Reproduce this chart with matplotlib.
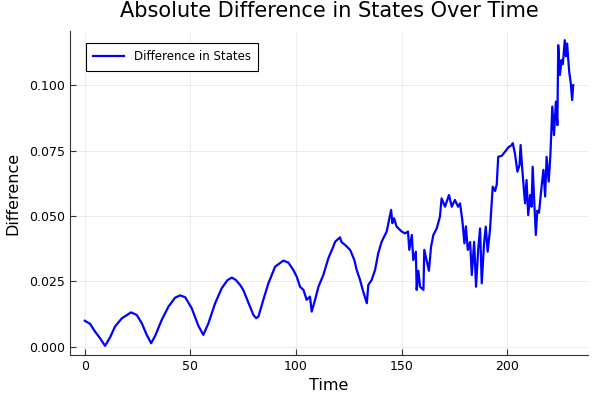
import matplotlib
matplotlib.use("Agg")
import matplotlib.pyplot as plt

# values
time = [0, 2.5, 4.9, 7.2, 9.6, 12, 14.3, 17.5, 21.9, 24.6, 27, 29.3, 31.4,
        33.3, 36.4, 39.6, 42.7, 45.1, 47.5, 50.6, 53.8, 56.1, 58.5, 61.7,
        64.8, 67.5, 69.6, 71.5, 73.5, 75, 76.6, 78.2, 79.8, 81.1, 82.2,
        84.5, 86.9, 90.1, 94, 96.4, 98.7, 100.3, 101.9, 103.5, 105, 106.6,
        107.4, 109, 110.6, 112.9, 115.3, 117.6, 118.5, 120.8, 121.5, 123.2,
        125.6, 127.6, 128.7, 130.3, 131.8, 133.5, 134.2, 135.8, 137.4,
        138.9, 140.5, 142.9, 145, 145.6, 146.4, 147.6, 150, 151.6, 153,
        153.6, 154.8, 155.5, 156.7, 157.1, 157.9, 158.7, 160.3, 160.7,
        162.9, 163.9, 165, 166.6, 168.1, 168.9, 170.5, 172.4, 173.7, 175.2,
        176.7, 177.6, 178.7, 179.7, 180.4, 181.3, 182.4, 183.2, 184.3,
        185.2, 186.2, 187.1, 187.9, 189, 189.8, 190.7, 191.8, 193.1, 194.2,
        195, 195.7, 197.4, 198.9, 200.5, 202.1, 202.6, 203.6, 204.8, 205.8,
        206.3, 207.1, 208.4, 209.1, 209.9, 210.8, 211.5, 212, 213, 213.5,
        214.2, 215, 216.3, 217.1, 217.9, 218.6, 219.6, 220.4, 221.3, 222.1,
        223, 223.7, 224.1, 224.9, 225.7, 226.3, 227.2, 227.8, 228.3, 229.3,
        230, 230.7, 231.2]
difference = [0.0099, 0.0087, 0.0057, 0.0032, 0.0003, 0.0036, 0.0077, 0.0108,
              0.0131, 0.0121, 0.0089, 0.0045, 0.0013, 0.0041, 0.0102, 0.0153,
              0.0187, 0.0196, 0.0189, 0.0147, 0.0079, 0.0045, 0.0089, 0.0166,
              0.0223, 0.0254, 0.0264, 0.0255, 0.0236, 0.0217, 0.0185, 0.0153,
              0.0121, 0.0109, 0.0115, 0.0179, 0.0242, 0.0306, 0.0329, 0.0321,
              0.0293, 0.0268, 0.0229, 0.0217, 0.0179, 0.0191, 0.0134, 0.0179,
              0.0229, 0.0274, 0.0338, 0.0382, 0.0401, 0.0418, 0.0400, 0.0389,
              0.0370, 0.0331, 0.0293, 0.0255, 0.0210, 0.0166, 0.0236, 0.0255,
              0.0293, 0.0357, 0.0401, 0.0440, 0.0523, 0.0472, 0.0491, 0.0459,
              0.0440, 0.0433, 0.0440, 0.0370, 0.0427, 0.0331, 0.0363, 0.0217,
              0.0290, 0.0229, 0.0217, 0.0370, 0.0290, 0.0382, 0.0427, 0.0452,
              0.0497, 0.0567, 0.0535, 0.0580, 0.0535, 0.0561, 0.0535, 0.0548,
              0.0484, 0.0395, 0.0460, 0.0370, 0.0400, 0.0274, 0.0401, 0.0229,
              0.0370, 0.0452, 0.0242, 0.0395, 0.0459, 0.0363, 0.0446, 0.0612,
              0.0595, 0.0620, 0.0726, 0.0730, 0.0745, 0.0762, 0.0771, 0.0778,
              0.0739, 0.0669, 0.0695, 0.0771, 0.0676, 0.0548, 0.0637, 0.0503,
              0.0580, 0.0535, 0.0688, 0.0510, 0.0427, 0.0520, 0.0512, 0.0618,
              0.0676, 0.0574, 0.0726, 0.0631, 0.0733, 0.0918, 0.0809, 0.0937,
              0.0847, 0.1153, 0.1039, 0.1096, 0.1080, 0.1172, 0.1110, 0.1159,
              0.1051, 0.1010, 0.0943, 0.1000]

fig = plt.figure(figsize=(6, 4), dpi=100)
ax = fig.add_axes([0.1167, 0.1125, 0.8633, 0.81])

ax.plot(time, difference, color="blue", lw=1.6, label="Difference in States")

ax.set_xlim(-7, 238.2)
ax.set_ylim(-0.0032, 0.1207)
ax.set_xticks([0, 50, 100, 150, 200])
ax.set_yticks([0, 0.025, 0.05, 0.075, 0.1])
ax.set_yticklabels(["0.000", "0.025", "0.050", "0.075", "0.100"])

ax.grid(True, color="black", alpha=0.1, lw=0.5)
for s in ["top", "right"]:
    ax.spines[s].set_visible(False)
for s in ["left", "bottom"]:
    ax.spines[s].set_color("#333333")
ax.tick_params(direction="in", length=4, labelsize=9, color="#333333")

ax.set_title("Absolute Difference in States Over Time", fontsize=15, pad=10)
ax.set_xlabel("Time", fontsize=11.5)
ax.set_ylabel("Difference", fontsize=11.5, labelpad=6)

leg = ax.legend(loc="upper left", fontsize=8.5, fancybox=False, framealpha=1,
                edgecolor="black", borderpad=0.6, handlelength=2.6,
                bbox_to_anchor=(0.02, 0.98))
leg.get_frame().set_linewidth(0.8)

fig.savefig("out.png")
